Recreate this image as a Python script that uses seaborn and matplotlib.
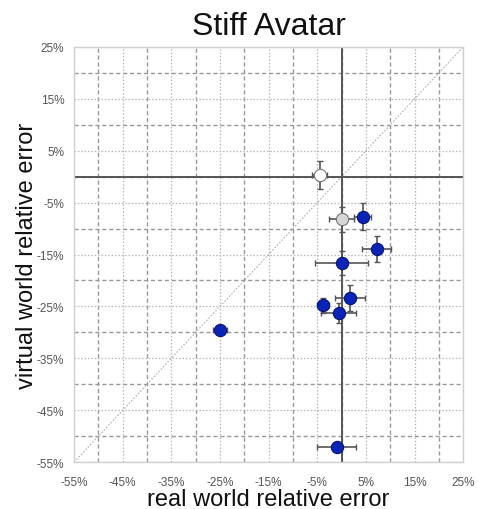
import matplotlib
matplotlib.use("Agg")
import matplotlib.pyplot as plt
import seaborn as sns
import pandas as pd
import numpy as np

# ---- data (percent) ----
real_err = [-4.5, 0.0, 4.3, 7.2, 0.0, 1.7, -3.8, -0.6, -25.0, -1.0]
virtual_err = [0.4, -8.2, -7.7, -13.9, -16.6, -23.3, -24.8, -26.3, -29.5, -52.1]
real_sd = [1.5, 2.5, 1.8, 3.0, 5.4, 3.1, 1.3, 3.6, 1.4, 4.0]
virtual_sd = [2.7, 2.4, 2.6, 2.5, 2.3, 2.5, 1.4, 1.9, 0.4, 0.4]
kind = ["white", "gray", "blue", "blue", "blue", "blue", "blue", "blue", "blue", "blue"]
tick_values = [-55, -45, -35, -25, -15, -5, 5, 15, 25]
tick_labels = [f"{v}%" for v in tick_values]

df = pd.DataFrame({"real": real_err, "virtual": virtual_err,
                   "rsd": real_sd, "vsd": virtual_sd, "kind": kind})

sns.set_style("white")
plt.rcParams["font.family"] = ["Liberation Sans", "DejaVu Sans"]

fig = plt.figure(figsize=(4.78, 5.10), dpi=100)
ax = fig.add_axes([0.155, 0.092, 0.814, 0.814])

ax.set_xlim(-55, 25)
ax.set_ylim(-55, 25)

# grid: dotted at labelled ticks, dashed at minor (multiples of 10)
minor = list(range(-50, 25, 10))
ax.set_xticks(tick_values)
ax.set_yticks(tick_values)
ax.set_xticks(minor, minor=True)
ax.set_yticks(minor, minor=True)
ax.set_xticklabels(tick_labels)
ax.set_yticklabels(tick_labels)
ax.grid(True, which="major", color="#b8b8b8", linestyle=(0, (1.2, 1.5)), linewidth=0.9)
ax.grid(True, which="minor", color="#9a9a9a", linestyle=(0, (3, 2)), linewidth=1.0)
ax.set_axisbelow(True)

# diagonal and zero axes
ax.plot([-55, 25], [-55, 25], color="#b0b0b0", linestyle=(0, (1.5, 1.5)), linewidth=0.8, zorder=1)
ax.axhline(0, color="#555555", linewidth=1.4, zorder=2)
ax.axvline(0, color="#555555", linewidth=1.4, zorder=2)

# error bars
ax.errorbar(df["real"], df["virtual"], xerr=df["rsd"], yerr=df["vsd"], fmt="none",
            ecolor="#555555", elinewidth=1.2, capsize=2.2, capthick=1.0, zorder=3)

palette = {"white": "#ffffff", "gray": "#d6d6d6", "blue": "#0a24b8"}
edges = {"white": "#777777", "gray": "#777777", "blue": "#0a1470"}
for k in ["white", "gray", "blue"]:
    sub = df[df["kind"] == k]
    sns.scatterplot(data=sub, x="real", y="virtual", color=palette[k], edgecolor=edges[k],
                    linewidth=0.8, s=78, ax=ax, zorder=4, legend=False)

for s in ax.spines.values():
    s.set_color("#d0d0d0")
    s.set_linewidth(1.0)

ax.tick_params(axis="both", which="both", length=0, labelsize=8.5, labelcolor="#555555")
ax.tick_params(axis="x", pad=10)
ax.tick_params(axis="y", pad=7)
ax.set_xlabel("real world relative error", fontsize=17, color="#111111", va="center")
ax.set_ylabel("virtual world relative error", fontsize=17, color="#111111", va="center")
ax.xaxis.set_label_coords(0.5, -0.088)
ax.yaxis.set_label_coords(-0.122, 0.5)
ax.set_title("Stiff Avatar", fontsize=23, color="#111111", pad=9)

fig.savefig("out.png", dpi=100)
